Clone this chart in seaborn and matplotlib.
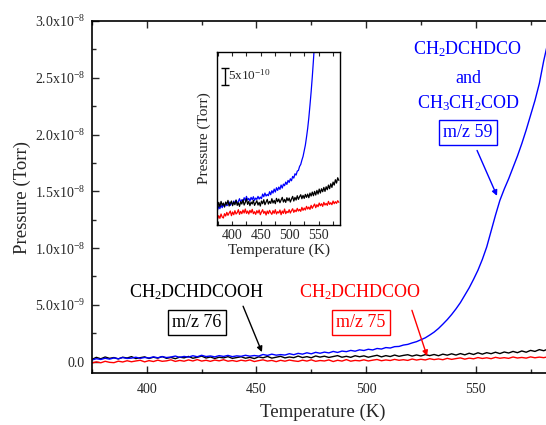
import numpy as np
import pandas as pd
import matplotlib
matplotlib.use("Agg")
import matplotlib.pyplot as plt
import seaborn as sns
from matplotlib.ticker import MultipleLocator, FuncFormatter

# ---------------- data (pressure in units of 1e-10 Torr) ----------------
temperature = list(range(375, 587, 2))  # K

m76_black = [2.0, 3.8, 2.5, 4.1, 2.9, 3.6, 2.4, 3.9, 3.2, 4.4,
             2.7, 3.5, 4.2, 2.8, 3.9, 3.1, 4.5, 2.9, 3.7, 2.6,
             4.0, 3.3, 4.6, 3.0, 3.8, 4.9, 3.2, 4.1, 2.8, 3.9,
             3.3, 4.4, 2.9, 3.6, 4.3, 3.0, 3.8, 2.7, 4.2, 3.4,
             4.6, 3.1, 3.9, 4.7, 3.3, 4.1, 3.5, 4.9, 3.6, 4.4,
             3.4, 5.0, 4.0, 4.8, 3.7, 4.5, 5.3, 3.9, 4.7, 3.8,
             5.2, 4.3, 5.1, 3.9, 4.8, 5.6, 4.2, 5.3, 4.5, 5.8,
             4.7, 5.5, 6.1, 4.9, 5.9, 5.0, 6.2, 5.3, 6.3, 5.2,
             6.6, 5.7, 6.9, 5.8, 7.1, 6.0, 7.4, 6.3, 7.8, 6.6,
             7.9, 7.0, 8.3, 7.1, 8.5, 7.6, 9.0, 7.9, 9.4, 8.3,
             9.9, 9.0, 10.6, 9.6, 11.2, 10.4]

m75_red = [-1.2, -0.2, -1.0, 0.3, -0.6, -0.9, 0.4, -0.3, 0.8, -0.1,
           0.6, 1.2, -0.2, 0.9, 0.1, 1.3, 0.3, 0.7, 1.6, 0.2,
           1.1, 0.4, 1.5, 0.6, 1.8, 0.5, 1.2, 0.3, 1.4, 0.7,
           1.7, 0.4, 1.0, 0.2, 1.3, 0.6, 1.5, 0.1, 0.9, 1.6,
           0.5, 1.1, 0.0, 1.2, 0.4, 1.4, 0.7, 0.2, 1.3, 0.5,
           1.6, 0.3, 1.0, 0.6, 1.5, 0.1, 1.2, 0.5, 1.8, 0.4,
           1.1, 0.7, 1.6, 0.6, 1.3, 1.9, 0.8, 1.5, 1.0, 2.0,
           1.2, 1.7, 1.1, 2.3, 1.4, 2.1, 1.5, 2.6, 1.8, 2.4,
           1.7, 2.9, 2.0, 2.7, 3.3, 2.2, 3.1, 2.5, 3.6, 2.8,
           3.4, 2.6, 3.8, 3.0, 3.5, 2.9, 4.1, 3.2, 3.7, 3.1,
           4.2, 3.4, 4.0, 3.5, 4.3, 3.8]

m59_blue = [1.5, 2.6, 1.9, 3.0, 2.2, 3.3, 2.5, 3.6, 2.8, 3.1,
            3.9, 2.9, 3.7, 3.2, 4.2, 3.4, 4.4, 3.6, 4.1, 4.9,
            3.8, 4.6, 4.0, 5.2, 4.3, 5.6, 4.5, 5.0, 4.2, 5.3,
            4.6, 5.5, 4.4, 5.1, 4.7, 5.6, 4.8, 5.4, 4.9, 6.3,
            5.5, 6.6, 5.7, 6.2, 5.8, 7.0, 6.1, 7.3, 6.6, 7.8,
            6.9, 8.2, 7.4, 8.4, 7.7, 9.0, 8.1, 9.3, 8.8, 9.9,
            9.2, 10.4, 9.8, 10.9, 10.3, 11.6, 11.1, 12.4, 12.0, 13.2,
            13.4, 14.6, 15.2, 16.5, 17.6, 19.3, 21.0, 23.4, 26.0, 29.2,
            33.0, 37.0, 41.5, 46.5, 52.0, 58.5, 65.0, 72.5, 80.5, 90.0,
            101.0, 115.0, 129.0, 142.0, 152.0, 161.0, 171.0, 181.0, 192.0, 204.0,
            217.0, 230.0, 245.0, 265.0, 282.0, 298.0]

UNIT = 1e-10
main_xticks = [400, 450, 500, 550]
main_yticks = [0, 5e-9, 1e-8, 1.5e-8, 2e-8, 2.5e-8, 3e-8]

BLUE = "#0000ff"
RED = "#ff0000"
BLACK = "#000000"

df = pd.DataFrame({
    "T": temperature,
    "m76": np.array(m76_black) * UNIT,
    "m75": np.array(m75_red) * UNIT,
    "m59": np.array(m59_blue) * UNIT,
})

# ---------------- style ----------------
sns.set_style("ticks")
plt.rcParams["font.family"] = ["Liberation Serif", "DejaVu Serif"]
plt.rcParams["mathtext.fontset"] = "custom"
plt.rcParams["mathtext.rm"] = "Liberation Serif"
plt.rcParams["mathtext.it"] = "Liberation Serif:italic"
plt.rcParams["mathtext.bf"] = "Liberation Serif:bold"
plt.rcParams["mathtext.default"] = "regular"

W, H = 546, 425
fig = plt.figure(figsize=(W / 100, H / 100), dpi=100)


def px_axes(l, t, r, b):
    return [l / W, 1 - b / H, (r - l) / W, (b - t) / H]


ax = fig.add_axes(px_axes(92, 21, 552.5, 373))

for col, c in [("m76", BLACK), ("m75", RED), ("m59", BLUE)]:
    sns.lineplot(data=df, x="T", y=col, ax=ax, color=c, lw=1.0, legend=False)

ax.set_xlim(375, 585)
ax.set_ylim(-1e-9, 3.0e-8)
ax.set_xticks(main_xticks)
ax.set_yticks(main_yticks)
ax.xaxis.set_minor_locator(MultipleLocator(25))
ax.yaxis.set_minor_locator(MultipleLocator(2.5e-9))


def sci_fmt(v, pos):
    if abs(v) < 1e-15:
        return "0.0"
    e = int(np.floor(np.log10(abs(v)) + 1e-9))
    m = v / 10 ** e
    return r"%.1fx10$^{%d}$" % (m, e)


ax.yaxis.set_major_formatter(FuncFormatter(sci_fmt))
ax.tick_params(which="both", direction="in", top=True, right=True, width=1.0)
ax.tick_params(which="major", length=5, labelsize=10, pad=5)
ax.tick_params(which="minor", length=3)
ax.tick_params(axis="x", which="major", pad=7)
for s in ax.spines.values():
    s.set_linewidth(1.2)
    s.set_color("black")
ax.set_xlabel("Temperature (K)", fontsize=13.5, labelpad=6)
ax.set_ylabel("Pressure (Torr)", fontsize=13.5, labelpad=3)

# ---------------- annotations ----------------
fs = 13
ax.text(546.5, 2.75e-8, r"CH$_2$DCHDCO", color=BLUE, fontsize=fs, ha="center", va="center")
ax.text(546.5, 2.49e-8, "and", color=BLUE, fontsize=fs, ha="center", va="center")
ax.text(546.5, 2.28e-8, r"CH$_3$CH$_2$COD", color=BLUE, fontsize=fs, ha="center", va="center")
ax.text(546.5, 2.02e-8, "m/z 59", color=BLUE, fontsize=fs, ha="center", va="center",
        bbox=dict(boxstyle="square,pad=0.22", fc="white", ec=BLUE, lw=1.0))
ax.annotate("", xy=(559.7, 1.46e-8), xytext=(550.6, 1.86e-8),
            arrowprops=dict(arrowstyle="-|>", color=BLUE, lw=1.0, mutation_scale=8,
                            shrinkA=0, shrinkB=0))

ax.text(422.9, 6.1e-9, r"CH$_2$DCHDCOOH", color=BLACK, fontsize=fs, ha="center", va="center")
ax.text(422.9, 3.47e-9, "m/z 76", color=BLACK, fontsize=fs, ha="center", va="center",
        bbox=dict(boxstyle="square,pad=0.22", fc="white", ec=BLACK, lw=1.0))
ax.annotate("", xy=(452.5, 0.84e-9), xytext=(443.9, 4.88e-9),
            arrowprops=dict(arrowstyle="-|>", color=BLACK, lw=1.0, mutation_scale=8,
                            shrinkA=0, shrinkB=0))

ax.text(497.2, 6.1e-9, r"CH$_2$DCHDCOO", color=RED, fontsize=fs, ha="center", va="center")
ax.text(497.7, 3.47e-9, "m/z 75", color=RED, fontsize=fs, ha="center", va="center",
        bbox=dict(boxstyle="square,pad=0.22", fc="white", ec=RED, lw=1.0))
ax.annotate("", xy=(527.8, 0.49e-9), xytext=(520.9, 4.52e-9),
            arrowprops=dict(arrowstyle="-|>", color=RED, lw=1.0, mutation_scale=8,
                            shrinkA=0, shrinkB=0))

# ---------------- inset ----------------
ax_in = fig.add_axes(px_axes(217, 52, 340, 225))
ax_in.set_facecolor("white")
for col, c in [("m59", BLUE), ("m76", BLACK), ("m75", RED)]:
    sns.lineplot(data=df, x="T", y=col, ax=ax_in, color=c, lw=0.9, legend=False)
ax_in.set_xlim(374, 587)
ax_in.set_ylim(-3e-10, 4.9e-9)
ax_in.set_xticks(main_xticks)
ax_in.xaxis.set_minor_locator(MultipleLocator(25))
ax_in.set_yticks([])
ax_in.tick_params(which="both", direction="in", top=True, width=0.8)
ax_in.tick_params(which="major", length=3, labelsize=10, pad=3)
ax_in.tick_params(which="minor", length=3)
for s in ax_in.spines.values():
    s.set_linewidth(1.0)
    s.set_color("black")
ax_in.set_xlabel("Temperature (K)", fontsize=11, labelpad=1)
ax_in.set_ylabel("Pressure (Torr)", fontsize=11, labelpad=4)

# scale bar 5x10^-10
ax_in.errorbar([388], [4.17e-9], yerr=[2.5e-10], fmt="none", ecolor="black",
               elinewidth=1.0, capsize=3, capthick=1.0)
ax_in.text(393, 4.2e-9, r"5x10$^{-10}$", fontsize=9.5, ha="left", va="center")

fig.savefig("out.png", dpi=100)
